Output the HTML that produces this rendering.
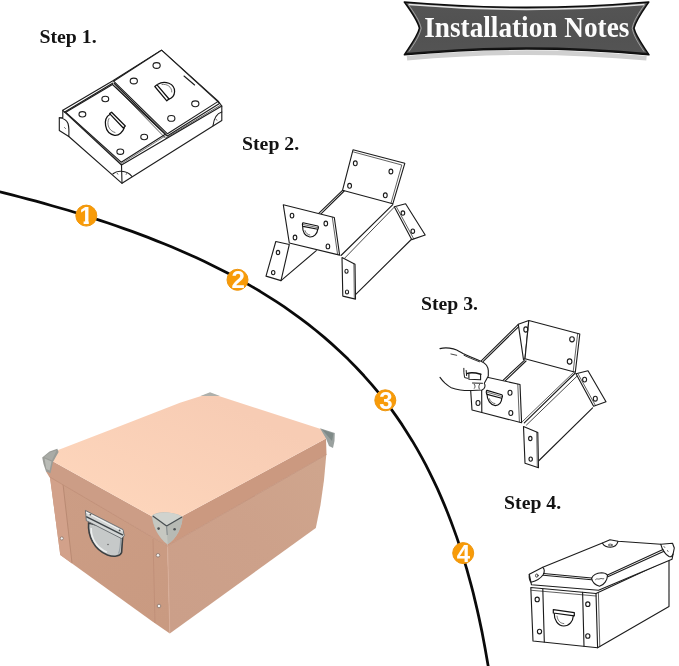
<!DOCTYPE html>
<html lang="en">
<head>
<meta charset="utf-8">
<title>Installation Notes</title>
<style>
html,body{margin:0;padding:0;background:#fff;}
body{width:679px;height:666px;overflow:hidden;position:relative;font-family:"Liberation Serif",serif;}
svg{position:absolute;left:0;top:0;display:block;}
.step{font-family:"Liberation Serif",serif;font-weight:bold;font-size:19px;fill:#111;}
.num{font-family:"Liberation Sans",sans-serif;font-weight:bold;font-size:24px;fill:#fff;text-anchor:middle;}
.ln{fill:none;stroke:#1c1c1c;stroke-width:1.12;stroke-linejoin:round;stroke-linecap:round;}
.lnf{fill:#fff;stroke:#1c1c1c;stroke-width:1.12;stroke-linejoin:round;stroke-linecap:round;}
</style>
</head>
<body>
<svg width="679" height="666" viewBox="0 0 679 666">
<defs>
<linearGradient id="bn" x1="0" y1="0" x2="0" y2="1">
<stop offset="0" stop-color="#555555"/><stop offset="0.5" stop-color="#515151"/><stop offset="1" stop-color="#545454"/>
</linearGradient>
<filter id="blur2" x="-10%" y="-50%" width="120%" height="200%"><feGaussianBlur stdDeviation="0.7"/></filter>
</defs>

<!-- ARC -->
<g id="arc">
<path d="M-4.0,190.9 L4.0,192.9 L12.0,194.9 L20.0,197.0 L28.0,199.1 L36.0,201.2 L44.0,203.4 L52.0,205.7 L60.0,208.0 L68.0,210.3 L76.0,212.8 L84.0,215.2 L92.0,217.8 L100.0,220.4 L108.0,223.0 L116.0,225.8 L124.0,228.6 L132.0,231.4 L140.0,234.4 L148.0,237.4 L156.0,240.6 L164.0,243.8 L172.0,247.1 L180.0,250.5 L188.0,254.0 L196.0,257.6 L204.0,261.3 L212.0,265.2 L220.0,269.2 L228.0,273.3 L236.0,277.6 L244.0,282.0 L252.0,286.6 L260.0,291.3 L268.0,296.3 L276.0,301.4 L284.0,306.7 L292.0,312.3 L300.0,318.1 L308.0,324.2 L316.0,330.5 L324.0,337.1 L332.0,344.1 L340.0,351.4 L348.0,359.1 L356.0,367.2 L364.0,375.8 L372.0,384.9 L378.7,392.9 L385.0,400.9 L391.0,408.9 L396.7,416.9 L402.2,424.9 L407.3,432.9 L412.3,440.9 L417.0,448.9 L421.5,456.9 L425.8,464.9 L429.8,472.9 L433.7,480.9 L437.5,488.9 L441.0,496.9 L444.4,504.9 L447.7,512.9 L450.8,520.9 L453.7,528.9 L456.6,536.9 L459.3,544.9 L461.9,552.9 L464.3,560.9 L466.7,568.9 L468.9,576.9 L471.1,584.9 L473.2,592.9 L475.1,600.9 L477.0,608.9 L478.8,616.9 L480.5,624.9 L482.2,632.9 L483.7,640.9 L485.2,648.9 L486.6,656.9 L488.0,664.9 L489.3,672.9" fill="none" stroke="#0a0a0a" stroke-width="2.75" stroke-linejoin="round"/>
</g>

<!-- CIRCLES -->
<g id="circles">
<clipPath id="c1clip"><circle cx="86.3" cy="215.6" r="10.6"/></clipPath>
<g fill="#f89b08" stroke="#ee960e" stroke-width="1">
<circle cx="86.3" cy="215.6" r="10.5"/>
<circle cx="237.5" cy="279.8" r="10.5"/>
<circle cx="385.3" cy="400.3" r="10.5"/>
<circle cx="463.2" cy="553.1" r="10.5"/>
</g>
<text opacity="0.99" class="num" x="86.2" y="224">1</text>
<g clip-path="url(#c1clip)"><rect x="76" y="220.4" width="7.6" height="5" fill="#f89b08"/><rect x="88.8" y="220.4" width="7" height="5" fill="#f89b08"/></g>
<text opacity="0.99" class="num" x="238.3" y="288.4">2</text>
<text opacity="0.99" class="num" x="386" y="409">3</text>
<text opacity="0.99" class="num" x="463.5" y="561.6">4</text>
</g>

<!-- BANNER -->
<g id="banner">
<path d="M407,58.2 Q526.5,47 646.5,58.2" fill="none" stroke="#d0d0d0" stroke-width="4.6" filter="url(#blur2)"/>
<path d="M404.3,2 Q526.5,12.6 648.8,2 C643,10.5 635.6,20.5 634,28.2 C635.6,36 643,45.5 649,54.8 Q526.5,43.4 404.3,54.8 C410.5,45.5 417.8,36 419.4,28.2 C417.8,20.5 410.5,10.5 404.3,2 Z" fill="url(#bn)" stroke="#0c0c0c" stroke-width="1.5" stroke-linejoin="round"/>
<path d="M405.5,53.9 Q526.5,42.4 647.8,53.9" fill="none" stroke="#141414" stroke-width="1.7"/>
<path d="M408.5,4.6 Q526.5,14.3 644.5,4.6" fill="none" stroke="#e6e6e6" stroke-width="1.5"/>
<path d="M408.5,4.8 C413.5,12 419.6,20.5 421.2,28.2 C419.6,36 414,44 409,51.5" fill="none" stroke="#cfcfcf" stroke-width="0.9" opacity="0.7"/>
<path d="M644.5,4.8 C639.5,12 633.6,20.5 632.2,28.2 C633.6,36 639,44 644,51.5" fill="none" stroke="#cfcfcf" stroke-width="0.9" opacity="0.7"/>
<text x="424.2" y="37.3" textLength="205.2" lengthAdjust="spacingAndGlyphs" opacity="0.99" style="font-family:'Liberation Serif',serif;font-weight:bold;font-size:28.6px;fill:#fff;">Installation Notes</text>
</g>

<!-- STEP LABELS -->
<g id="labels" opacity="0.99">
<text class="step" x="39.4" y="42.6" textLength="57.2" lengthAdjust="spacingAndGlyphs">Step 1.</text>
<text class="step" x="242" y="149.6" textLength="57.2" lengthAdjust="spacingAndGlyphs">Step 2.</text>
<text class="step" x="421" y="309.8" textLength="57" lengthAdjust="spacingAndGlyphs">Step 3.</text>
<text class="step" x="504.1" y="509.2" textLength="57" lengthAdjust="spacingAndGlyphs">Step 4.</text>
</g>

<!-- PHOTO BOX -->
<g id="photo">
<defs>
<linearGradient id="pr" gradientUnits="userSpaceOnUse" x1="170" y1="620" x2="325" y2="470">
<stop offset="0" stop-color="#cb9f89"/><stop offset="0.55" stop-color="#cda18a"/><stop offset="1" stop-color="#cfa58d"/>
</linearGradient>
<linearGradient id="pl" gradientUnits="userSpaceOnUse" x1="60" y1="480" x2="160" y2="630">
<stop offset="0" stop-color="#cc9d85"/><stop offset="1" stop-color="#c99a81"/>
</linearGradient>
<linearGradient id="pt" gradientUnits="userSpaceOnUse" x1="210" y1="395" x2="150" y2="520">
<stop offset="0" stop-color="#f7ccb4"/><stop offset="1" stop-color="#fdd5bb"/>
</linearGradient>
<linearGradient id="mt" x1="0" y1="0" x2="1" y2="1">
<stop offset="0" stop-color="#e8ecee"/><stop offset="0.5" stop-color="#b9c1c6"/><stop offset="1" stop-color="#8d969b"/>
</linearGradient>
<filter id="soft" x="-5%" y="-5%" width="110%" height="110%"><feGaussianBlur stdDeviation="0.6"/></filter>
</defs>
<g filter="url(#soft)">
<!-- body left face -->
<polygon points="49.8,476 167.4,546 169.8,633.5 152.4,621.4 60.3,555" fill="url(#pl)"/>
<!-- body right face -->
<polygon points="167.4,546 326.3,454.5 324,480 320.5,505 315.8,528 169.8,633.5" fill="url(#pr)"/>
<!-- left flap strip -->
<polygon points="49.8,476 63,484 72,563.4 60.3,555" fill="#d2a18a"/>
<path d="M63,484 L72,563" stroke="#b98a73" stroke-width="1" fill="none"/>
<!-- front strip -->
<path d="M153,539 L155,623" stroke="#c08f77" stroke-width="0.9" fill="none"/>
<path d="M167.6,546 L169.8,633" stroke="#d8ad98" stroke-width="1" fill="none"/>
<!-- lid bands -->
<polygon points="45,457 166.6,524.5 167.4,546 49,476.6 46.3,472" fill="#cc9d86"/>
<polygon points="166.6,524.5 326,438.5 326.5,454.5 167.4,546" fill="#cb9980"/>
<path d="M49,476.6 L167.4,546 L326.5,454.5" stroke="#bd8d76" stroke-width="1" fill="none" opacity="0.7"/>
<!-- lid top -->
<polygon points="45,457 58.8,449.8 110,430 180,402.8 200.4,396.2 210,393 219.6,396.2 330,432 326,438.5 166.6,524.5" fill="url(#pt)"/>
</g>
<!-- rivets -->
<g fill="#f2f2f2" stroke="#8a7468" stroke-width="0.8">
<circle cx="61.8" cy="538.4" r="1.6"/>
<circle cx="158" cy="555.3" r="1.8"/>
<circle cx="159" cy="606" r="1.8"/>
</g>

<!-- metal corners -->
<g filter="url(#soft)">
<path d="M42.2,457.5 L49.5,451.5 L57.3,448.8 L58.6,452 L53,462 L50.5,473.3 L46,471.5 L43.5,464 Z" fill="#9b9d98"/>
<path d="M44.5,458.5 L51.5,461.5 L49.6,470.6 L46.3,469 Z" fill="#b9bbb6"/><path d="M44,457 L50,452.4 L56.6,450.2 L52,460.6 Z" fill="#a9aba6"/>
<path d="M200.5,396 L210,392.3 L220,396 Z" fill="#aeb0ab"/>
<path d="M320,428.2 L334.8,433 L334.5,441 L333,448 L329,446 L326,438.5 Z" fill="#9aa19f"/>
<path d="M322,429.5 L333.5,433.5 L332,441 Z" fill="#7f8a88"/>
<path d="M152,515.6 C154,513.6 158,512.6 163,512.3 C170,512.2 178,514 182.6,516.6 C182.6,521 181.6,526 178.6,532 C175.6,537.6 171.6,542 167.6,544.6 C163.6,542 158.6,536 155.6,529.6 C153.3,524.6 152,519.6 152,515.6 Z" fill="#bcbfba"/>
<path d="M152.6,515.6 C156,513 162,512.4 167,512.6 C173,513 179,514.6 182.3,516.8 L166.6,526 Z" fill="#d0d3ce"/>
<path d="M166.6,526 L182.3,516.8 C182.3,522 181,527 178.3,532 C175.3,537.6 171.6,541.6 167.6,544.3 Z" fill="#b7bab4"/>
<path d="M152.6,515.6 L166.6,526 L167.6,544.3 C163.6,541.6 158.6,536 155.8,529.6 C153.6,524.6 152.6,519.6 152.6,515.6 Z" fill="#c6c8c1"/>
<path d="M152.8,516 L166.6,526 L182,517" stroke="#4a5053" stroke-width="1.3" fill="none" stroke-linejoin="round"/>
<path d="M166.6,526 L167.2,535" stroke="#7d8588" stroke-width="1" fill="none"/>
<circle cx="158.6" cy="528.6" r="1.3" fill="#4d5255"/>
<circle cx="174.6" cy="529.3" r="1.3" fill="#4d5255"/>
</g>
<!-- handle -->
<g filter="url(#soft)">
<path d="M88.6,523 C87.6,536 94,549.5 107.5,555 C114,557.3 120,556.3 121.6,552.5 L123,532 Z" fill="#c6c9c9" stroke="#3c4043" stroke-width="1.6"/>
<path d="M91.2,528 C90.8,538 96.5,548 107,552.2" stroke="#eceeee" stroke-width="1.6" fill="none"/>
<path d="M118.5,553.5 C120,551 120.5,545 120.8,538" stroke="#9aa3a9" stroke-width="1.2" fill="none"/>
<path d="M85.4,510.4 L123,529.6 L124.3,535.8 L121.6,538.6 L86.3,520.6 Z" fill="#d3d6d6" stroke="#666b6e" stroke-width="0.9"/>
<path d="M86.2,516.6 L123,535.2" stroke="#3f4549" stroke-width="1.5" fill="none"/>
<path d="M86,512.3 L122.6,531" stroke="#ffffff" stroke-width="1" fill="none" opacity="0.8"/>
<circle cx="90.4" cy="514.6" r="0.9" fill="#555"/>
<circle cx="119.6" cy="530.4" r="0.9" fill="#555"/>
<circle cx="108" cy="544.5" r="0.8" fill="#666"/>
</g>
</g>

<!-- STEP 1 DRAWING -->
<g id="s1" class="ln">
<!-- tray faces -->
<path class="lnf" d="M62.8,110.3 L112.5,81 L161.5,50.2 L218.5,101.5 L221.8,106 L221.8,120.5 L122,183.3 L68.8,136.5 L59.3,130.5 L59.3,117.8 L62.8,117.5 Z"/>
<!-- tray top rim front edges -->
<path d="M62.8,110.3 L121.5,165 L221.8,106"/>
<path d="M121.5,165 L122,183.3"/>
<path d="M64.3,112.3 L113,83"/>
<!-- left corner cap -->
<path d="M59.3,117.8 Q66,118.5 68,123.5 Q69.3,128 68.8,136.5"/>
<path d="M64.5,127.5 l1,1" stroke-width="0.7"/>
<!-- front corner cap -->
<path d="M113,173.8 Q116.5,170.8 121.5,171.3 Q128,171.5 132,176.5"/>
<path d="M117,173 l0.8,1.2 M127,173.2 l-0.8,1.2" stroke-width="0.7"/>
<!-- right corner cap -->
<path d="M221.8,112 Q214.5,114 213,125.8"/>
<path d="M216,119.5 l1,0.6" stroke-width="0.7"/>
<!-- left panel -->
<path class="lnf" d="M65.8,112.3 L112.5,84.5 L165.3,134.3 L121.2,162.2 Z"/>
<path d="M67.5,113.8 L121.3,163.7 L166,135.5" stroke-width="0.6"/>
<ellipse cx="105.3" cy="99" rx="3.4" ry="2.7"/>
<ellipse cx="82.4" cy="114.3" rx="3.4" ry="2.7"/>
<ellipse cx="144.2" cy="137" rx="3.4" ry="2.7"/>
<ellipse cx="120.3" cy="151.7" rx="3.4" ry="2.7"/>
<!-- left handle -->
<g stroke-width="1.25" stroke="#111">
<path d="M110.1,114.2 C102.6,118.5 104.1,133.5 114.6,135.3 C119.1,135.8 122.8,132 124.3,127.8"/>
<path d="M109.6,113.6 L111.6,112.2 L125.3,126 L123.3,128 Z"/>
</g>
<path d="M109,118.5 C106,124 109,131 115,132.5" stroke-width="0.6"/>
<!-- right panel -->
<path class="lnf" d="M113.6,81.2 L161.5,50.2 L217.8,101.6 L167.5,133.8 Z"/>
<path d="M114.3,83.5 L167.3,136 L219.5,103.5 L217.8,101.6"/>
<path d="M115.5,87 L165.5,138.2 L220.5,105.2" stroke-width="0.7"/>
<ellipse cx="156.6" cy="65.5" rx="3.6" ry="2.9"/>
<ellipse cx="133.8" cy="81" rx="3.6" ry="2.9"/>
<ellipse cx="195.3" cy="103.8" rx="3.6" ry="2.9"/>
<ellipse cx="171.3" cy="118.4" rx="3.6" ry="2.9"/>
<path d="M184,76 L194.6,85"/>
<!-- right handle -->
<g stroke-width="1.25" stroke="#111">
<path d="M157.8,84.3 C164.5,79.8 175,83.5 174.6,91.8 C174.3,96.3 171.3,98.6 168.3,99.3"/>
<path d="M154.8,86.5 L157,84.8 L169,99 L166.8,100.8 Z"/>
</g>
<path d="M162,84.5 C167,83.5 172,87 171.8,92" stroke-width="0.6"/>
</g>
<!-- STEP 2 DRAWING -->
<g id="s2" class="ln">
<!-- back panel -->
<path class="lnf" d="M353,149.8 L404.8,163.3 L392.8,203.8 L342.5,190.3 Z"/>
<path d="M353.6,152 L401.8,165 L391,203.2" stroke-width="0.7"/>
<ellipse cx="355.3" cy="163.3" rx="1.9" ry="2.4"/>
<ellipse cx="390.9" cy="171.5" rx="1.9" ry="2.4"/>
<ellipse cx="349.6" cy="185.8" rx="1.9" ry="2.4"/>
<ellipse cx="385.3" cy="195.3" rx="1.9" ry="2.4"/>
<!-- floor edges -->
<path d="M342.5,190.3 L318.5,213.6 M344.2,191 L321,213.8"/>
<path d="M392.8,204.6 L341,255.5"/>
<path d="M394.6,206.8 L345,257.8" stroke-width="0.8"/>
<!-- side panel -->
<path d="M355.5,294.6 L411.8,239"/>
<!-- right flap -->
<path class="lnf" d="M394.3,206.8 L405.6,203.8 L425.2,235 L411.7,239.6 Z"/>
<path d="M396.6,207.2 L413.6,238.6" stroke-width="0.7"/>
<ellipse cx="402.9" cy="213.1" rx="1.8" ry="2.2"/>
<ellipse cx="412.8" cy="231.2" rx="1.8" ry="2.2"/>
<!-- left flap -->
<path class="lnf" d="M275.8,241.5 L289.3,244.5 L281,280.6 L266,276.1 Z"/>
<path d="M281,280.6 L316.3,250.6"/>
<ellipse cx="278" cy="252.5" rx="1.7" ry="2.1"/>
<ellipse cx="273.2" cy="272.6" rx="1.7" ry="2.1"/>
<!-- front panel -->
<path class="lnf" d="M283.3,204.8 L334.3,217.5 L339.6,255.1 L289.3,243 Z"/>
<path d="M332.3,217.3 L337.6,254.4" stroke-width="0.7"/>
<ellipse cx="292" cy="215.6" rx="1.8" ry="2.4"/>
<ellipse cx="325.8" cy="223.5" rx="1.8" ry="2.4"/>
<ellipse cx="295" cy="237.5" rx="1.8" ry="2.4"/>
<ellipse cx="327.9" cy="246.4" rx="1.8" ry="2.4"/>
<g stroke-width="1.15" stroke="#111">
<path d="M302.7,226.6 C302.3,232 305.3,236.4 309.8,237 C314.2,237.2 317.2,233.6 317.7,229.6"/>
<path d="M303,222.8 L317.8,226 C318.6,226.4 318.6,228.6 317.8,229.2 L303,226.4 C302.2,226 302.2,223.2 303,222.8 Z"/>
<path d="M303.4,224.6 L317.6,227.6" stroke-width="0.6"/>
<path d="M305,230.6 C305.6,233 307.6,234.8 309.8,235" stroke-width="0.6"/>
</g>
<!-- front-right flap -->
<path class="lnf" d="M342,257.6 L355,264.2 L355.5,299.1 L342.8,296.1 Z"/>
<path d="M353.8,264 L354.3,298.6" stroke-width="0.6"/>
<ellipse cx="346.5" cy="271.3" rx="1.6" ry="2"/>
<ellipse cx="347" cy="292" rx="1.6" ry="2"/>
</g>
<!-- STEP 3 DRAWING -->
<g id="s3" class="ln">
<!-- left wall top edge -->
<path d="M481.5,360.6 L518.3,324.3 M483.3,361.3 L519,326.3"/>
<!-- back-left corner strip -->
<path class="lnf" d="M518.3,324.3 L528.8,320.5 L525,358.8 L523.5,359.6 Z"/>
<!-- back panel -->
<path class="lnf" d="M528.8,320.5 L579.8,334 L575.3,372.3 L525,358.8 Z"/>
<path d="M577.6,334 L573.2,371.6" stroke-width="0.7"/>
<ellipse cx="525.8" cy="329.5" rx="2" ry="2.6"/>
<ellipse cx="572" cy="339.3" rx="2.3" ry="2.6"/>
<ellipse cx="569.6" cy="361.5" rx="2.3" ry="2.6"/>
<!-- floor edges -->
<path d="M524.3,360.3 L503,380.3 M526,361 L505.5,380.6"/>
<path d="M575.3,373 L524.3,422.8"/>
<path d="M573.4,372.6 L522.5,421.5" stroke-width="0.7"/>
<path d="M577.4,375.8 L526.5,425" stroke-width="0.8"/>
<!-- side panel -->
<path d="M538.5,461 L592.6,407.8"/>
<!-- right flap -->
<path class="lnf" d="M576,373.8 L588,370.8 L606,401.7 L593.6,406.3 Z"/>
<path d="M578.3,374.3 L595.4,405.4" stroke-width="0.7"/>
<ellipse cx="584.6" cy="379.6" rx="2" ry="2.4"/>
<ellipse cx="595.3" cy="398.7" rx="2" ry="2.4"/>
<!-- front panel -->
<path class="lnf" d="M470.5,388 L481.5,376 L520,384.5 L521.6,422.8 L481.8,412.5 L472,410 Z"/>
<path d="M481.6,377 L481.8,412.3"/>
<path d="M517.8,384.3 L519.4,422" stroke-width="0.7"/>
<ellipse cx="510" cy="392.8" rx="2" ry="2.5"/>
<ellipse cx="478" cy="403" rx="2" ry="2.5"/>
<ellipse cx="510.8" cy="413" rx="2" ry="2.5"/>
<g stroke-width="1.15" stroke="#111">
<path d="M487,394.3 C487,400 490.5,405 495.3,405.6 C499.3,405.6 501.6,402 501.8,398.4"/>
<path d="M487,390.4 L501.8,394.8 C502.8,395.4 502.6,397.8 501.6,398.2 L487.2,394.4 C486,393.8 486,390.8 487,390.4 Z"/>
<path d="M487.4,392.3 L501.6,396.4" stroke-width="0.6"/>
<path d="M489.3,398.6 C490,401.3 492.3,403.3 495,403.6" stroke-width="0.6"/>
</g>
<!-- hand -->
<path class="lnf" stroke-width="1.15" d="M440,348.6 C443,347.8 446.5,347.8 449.5,348.1 C452.5,348.5 454.5,349 456.7,349.9 C459,351 461,352.3 463,353.5 C466,355 469,356.3 472,357.6 C475,359 478,360 481,361.2 C483.5,362.3 485.3,363.5 486.5,365.2 C487.7,367 488.3,368.5 488.3,370.6 L488.3,376 L484.3,383.3 C485.6,385.3 485.3,388.5 482,390 L472,390.5 C468,390.6 464,390.5 460.3,390 C457,389.5 454,388.8 451.3,387.7 C449,386.7 447,385 445,383.2 C443,381.3 441.5,379.5 440,377.4"/>
<path stroke-width="0.9" d="M464,355.3 C468,357.2 473,359.3 479.5,361.8"/>
<path stroke-width="1.5" stroke="#111" d="M466.8,373.6 C470,372.4 475,372.6 480.8,374.2"/>
<path stroke-width="1.1" d="M468.9,373.5 L468.9,379.3 L480.6,379.7 L480.6,374.3"/>
<path stroke-width="1" d="M463.8,368.3 C463.6,371 464,374.5 464.6,377.6 L467.6,378.3 M466.2,370.5 L466.6,375.6"/>
<path stroke-width="1" d="M472.5,383 L482.5,383.3"/>
<path stroke-width="0.8" d="M450.9,354 L456.7,355.3 M474.3,384.3 C475.3,385.6 475.3,387 474.4,388.3 M479.6,384.3 C478.6,386 478.6,387.6 479.3,389"/>
<!-- front-right flap -->
<path class="lnf" d="M523.5,426.5 L537.8,432.5 L538.5,467.8 L525,463.3 Z"/>
<path d="M536.6,432.3 L537.3,467" stroke-width="0.6"/>
<ellipse cx="530.3" cy="438.5" rx="1.7" ry="2.1"/>
<ellipse cx="530.7" cy="459.1" rx="1.7" ry="2.1"/>
</g>
<!-- STEP 4 DRAWING -->
<g id="s4" class="ln">
<!-- body -->
<path class="lnf" d="M530.8,587.5 L596,593.5 L669,559.5 L669,606.6 L597.6,647.8 L533,641 Z"/>
<path d="M596,593.5 L597.6,647.8"/>
<path d="M598.4,592.6 L599.8,646.5" stroke-width="0.7"/>
<path d="M542.8,589 L544.3,642"/>
<path d="M582.6,592.3 L584,646.3"/>
<path d="M531.5,590.3 L596,596" stroke-width="0.7"/>
<ellipse cx="537.2" cy="599.4" rx="2.1" ry="2.3"/>
<ellipse cx="587.8" cy="604.2" rx="2.1" ry="2.3"/>
<ellipse cx="539.5" cy="631.6" rx="2.1" ry="2.3"/>
<ellipse cx="587.8" cy="636" rx="2.1" ry="2.3"/>
<!-- handle -->
<g stroke-width="1.2" stroke="#111">
<path d="M554.3,613.6 C554,620 558,625.6 563.8,626 C569.5,626 573,621 573.3,616"/>
<path d="M553.3,609.6 L574.3,612.6 L574.3,615.8 L553.3,613 Z"/>
</g>
<path d="M557,616 C557.5,620.5 560,623.3 563.8,623.6" stroke-width="0.6"/>
<!-- lid -->
<path class="lnf" d="M529.3,574.3 L542.8,567.3 L603.6,542.6 L610,539.8 L618,541.2 L660.8,544.3 L672.5,543.2 L674.3,548 L672,559.3 L598.5,590.3 L531.5,584.8 Z"/>
<path d="M543.5,573.5 L591.6,578 M543.3,575.3 L591.6,579.8"/>
<path d="M607.5,575 L663,549.5 M607.8,576.8 L664,551.3"/>
<!-- left cap -->
<path d="M542.8,567.3 C545,569.5 544.5,572 543.3,574.5 C541,578 536,581 531,582.3 C529.3,580 529,577 529.3,574.3"/>
<ellipse cx="536.8" cy="575.6" rx="1.3" ry="1.6" stroke-width="0.8"/>
<!-- front cap -->
<path d="M591.6,578.3 C593,575 597,573 601.5,572.8 C604.5,572.8 606.5,573.8 607.5,575.3 C607.5,580 604,585 599.5,586.3 C595,584.8 592.3,582 591.6,578.3 Z"/>
<path d="M595.5,579.6 C597,577.8 598.5,579.8 600,578.8 C601.5,577.8 602.5,579.5 603.8,578.8" stroke-width="0.7"/>
<!-- back cap -->
<path d="M602.5,543.2 C604,546 607,547.3 610.5,547.3 C614,547.2 617,545 618,541.4"/>
<ellipse cx="610.3" cy="545" rx="2" ry="0.9" stroke-width="0.7"/>
<!-- right cap -->
<path d="M660.8,544.3 C662,549 665,554 669,556.5 C671,557.3 672.5,556 673,554"/>
<path d="M664,546.5 l0.8,1 M667.5,550.5 l0.6,1" stroke-width="0.7"/>
</g>
</svg>
</body>
</html>
